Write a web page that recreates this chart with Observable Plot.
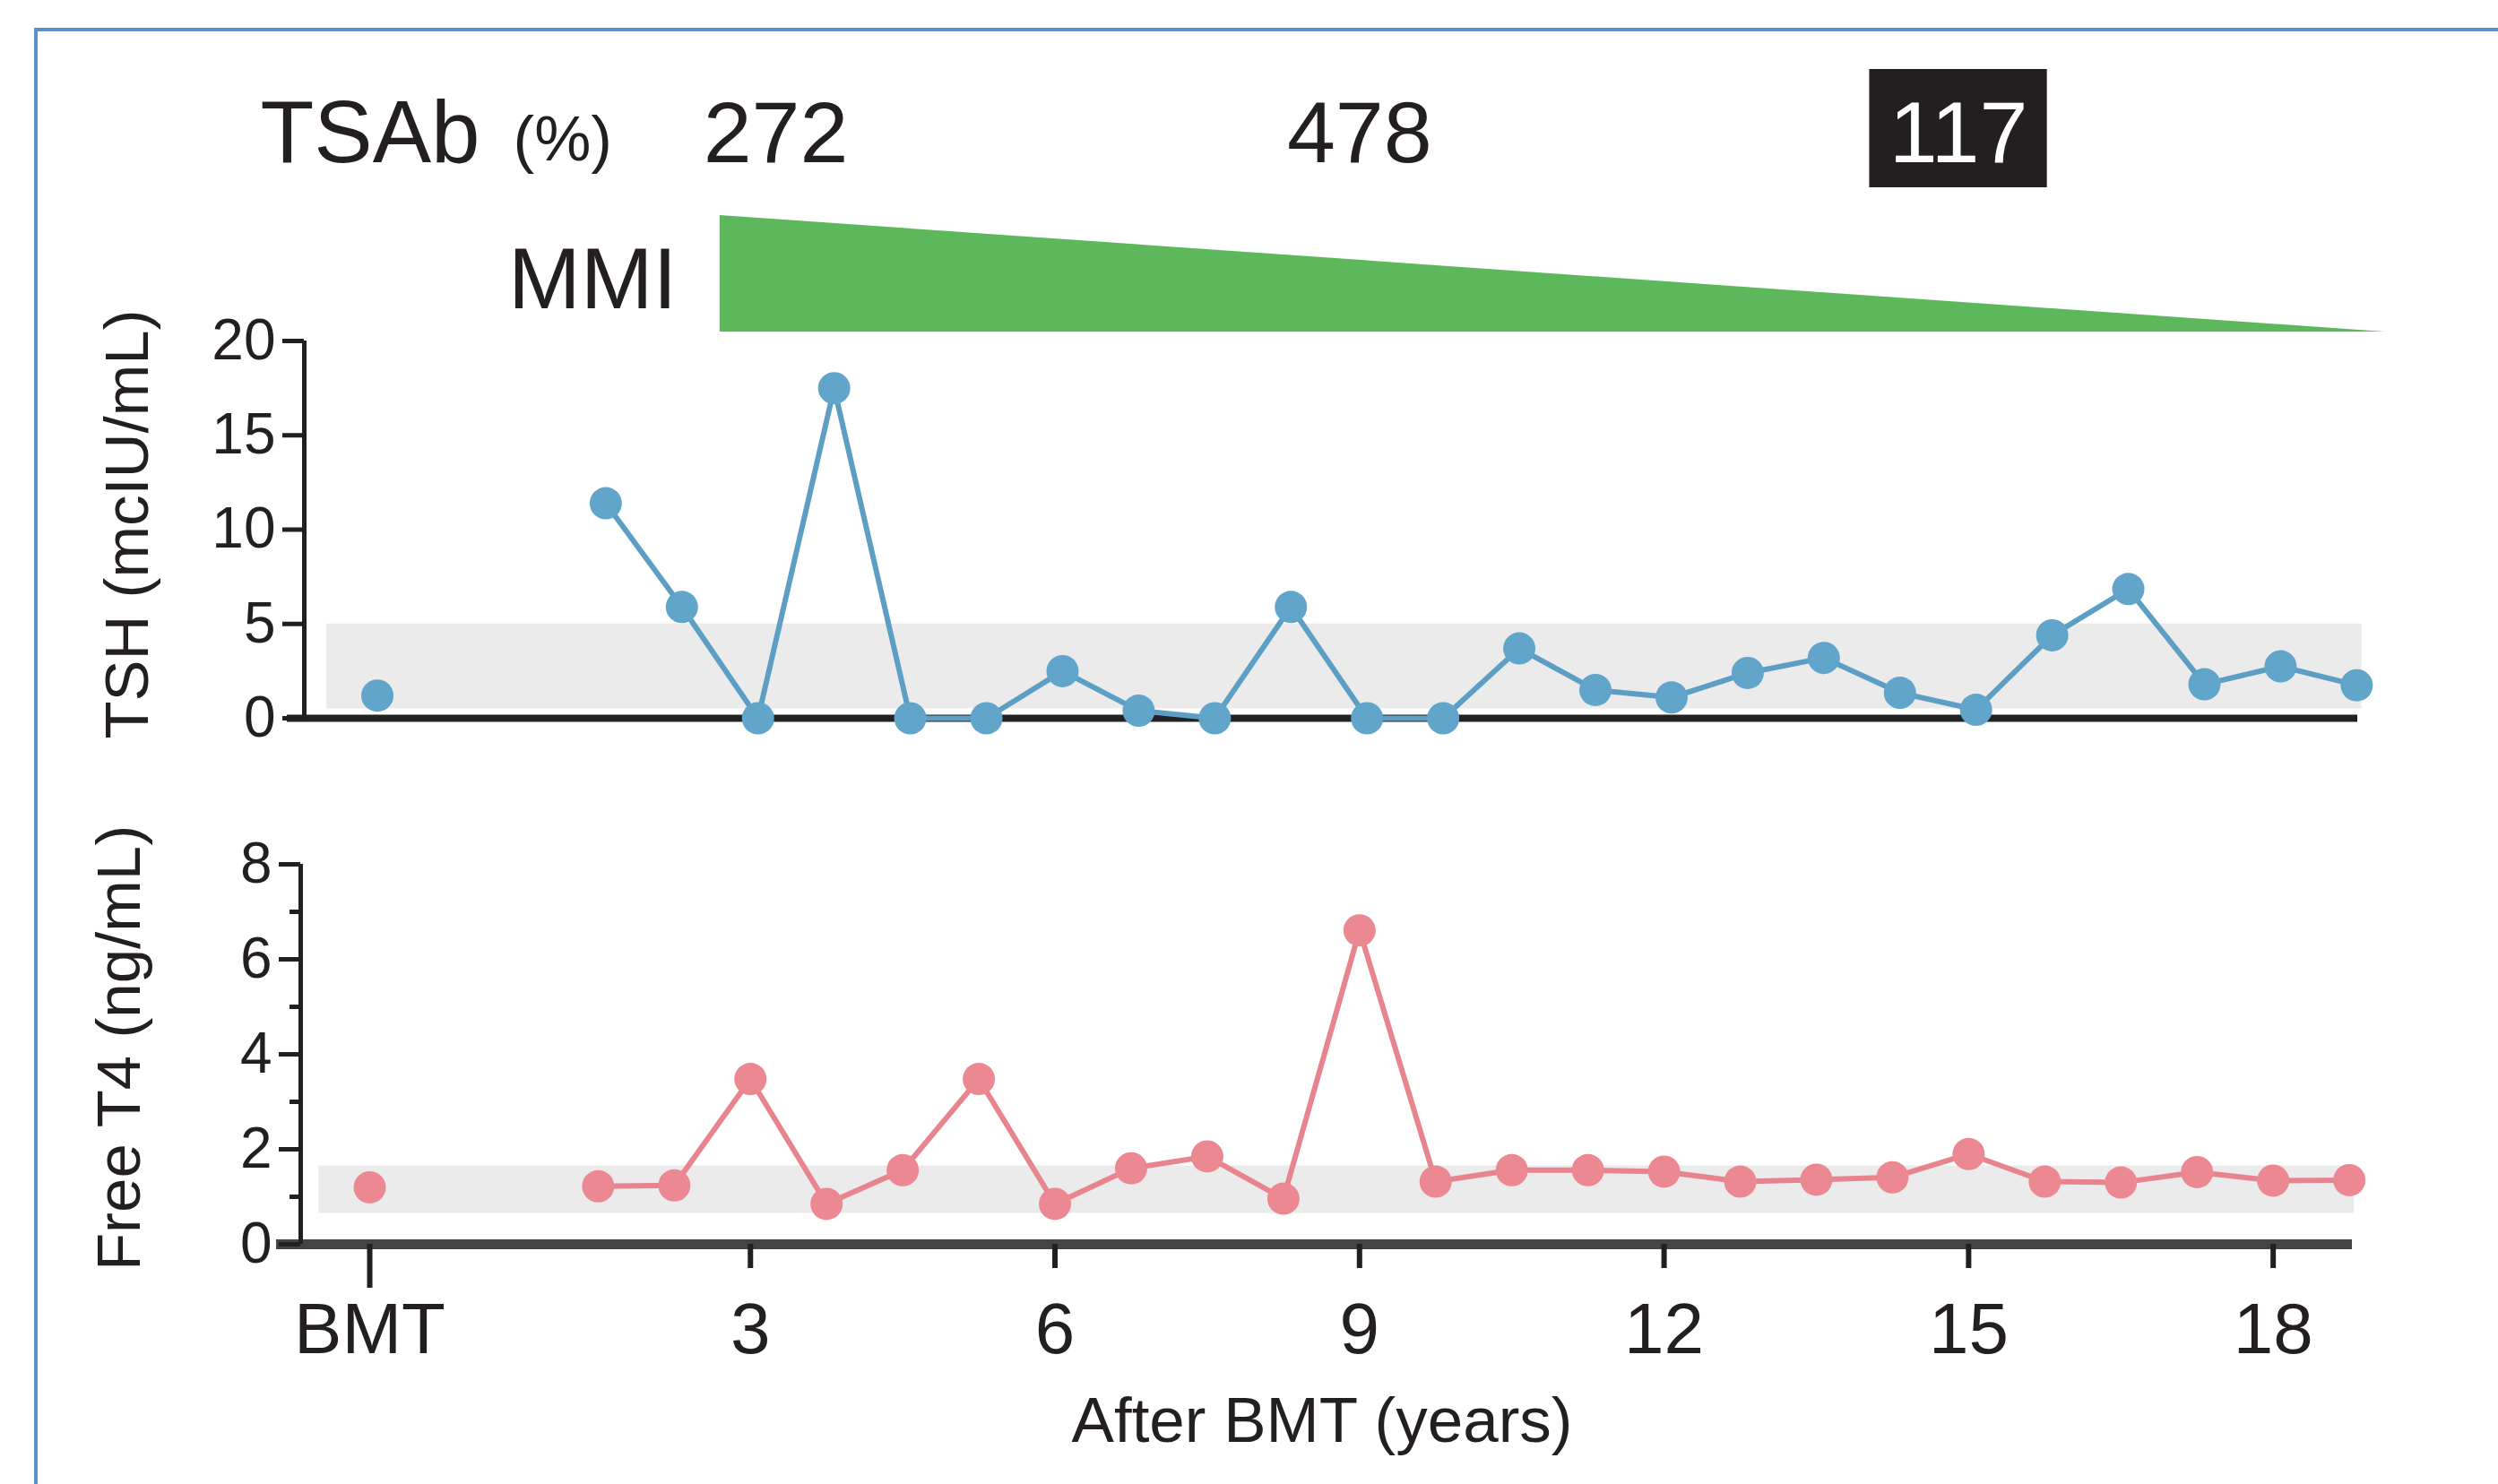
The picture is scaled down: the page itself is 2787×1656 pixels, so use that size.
<!DOCTYPE html>
<html>
<head>
<meta charset="utf-8">
<script src="https://cdn.jsdelivr.net/npm/d3@7"></script>
<script src="https://cdn.jsdelivr.net/npm/@observablehq/plot@0.6"></script>
<style>
  html, body { margin: 0; padding: 0; background: #fff; overflow: hidden; }
  #fig { position: relative; width: 2787px; height: 1656px; overflow: hidden; background: #fff; }
  #border { position: absolute; left: 38px; top: 31px; width: 4000px; height: 4000px;
            border-left: 4px solid #5a90cb; border-top: 4px solid #5a90cb; }
</style>
</head>
<body>
<div id="fig"><div id="border"></div></div>
<script>
// ---------------- data ----------------
const sampleYears = [-0.75, 1.5, 2.25, 3, 3.75, 4.5, 5.25, 6, 6.75, 7.5, 8.25, 9, 9.75,
                     10.5, 11.25, 12, 12.75, 13.5, 14.25, 15, 15.75, 16.5, 17.25, 18, 18.75];
const tshValues = [1.2, 11.4, 5.9, 0, 17.5, 0, 0, 2.5, 0.4, 0, 5.9, 0, 0,
                   3.7, 1.5, 1.1, 2.4, 3.2, 1.35, 0.45, 4.4, 6.85, 1.8, 2.75, 1.75];
const ft4Values = [1.2, 1.22, 1.24, 3.48, 0.85, 1.56, 3.48, 0.85, 1.6, 1.85, 0.96, 6.61, 1.32,
                   1.56, 1.56, 1.53, 1.32, 1.36, 1.41, 1.9, 1.32, 1.3, 1.52, 1.34, 1.35];
const tshNormalRange = [0.5, 5];
const ft4NormalRange = [0.65, 1.65];
const normalBandYears = [-1.25, 18.8];

const tsabLabels = ["272", "478", "117"];
const tsabYears = [3.25, 9, 14.9];
const tsabHighlight = [false, false, true];

const mmiYears = [2.7, 19.1];
const mmiDose = [1, 0];

const xTickValues = [3, 6, 9, 12, 15, 18];
const xTickLabels = ["3", "6", "9", "12", "15", "18"];
const bmtTickValue = [-0.75];
const bmtTickLabel = "BMT";
const tshTicks = [0, 5, 10, 15, 20];
const ft4Ticks = [0, 2, 4, 6, 8];
const ft4MinorTicks = [1, 3, 5, 7];

// ---------------- build ----------------
const W = 2787;
const font = '"Liberation Sans", Arial, Helvetica, sans-serif';
const ink = "#231f20";
const baseStyle = {background: "transparent", overflow: "visible", fontFamily: font, color: ink};

const series = sampleYears.map((year, i) => ({
  year, tsh: tshValues[i], ft4: ft4Values[i], seg: year < 0 ? "bmt" : "follow-up"
}));
const tsab = tsabYears.map((year, i) => ({year, label: tsabLabels[i], hi: tsabHighlight[i]}));
const mmi = mmiYears.map((year, i) => ({year, dose: mmiDose[i]}));

const xBottom = {domain: [-1.43, 18.78], axis: null, label: null};
const xTsh = {domain: [-1.47, 18.76], axis: null, label: null};

function place(el, top) {
  el.style.position = "absolute";
  el.style.left = "0px";
  el.style.top = top + "px";
  document.getElementById("fig").appendChild(el);
}

// TSAb row
place(Plot.plot({
  width: W, height: 240, marginTop: 77, marginBottom: 31, marginLeft: 335, marginRight: 163,
  style: baseStyle,
  x: xBottom, y: {axis: null, domain: [0, 1]},
  marks: [
    Plot.rect(tsab.filter(d => d.hi), {x1: d => d.year - 0.875, x2: d => d.year + 0.875, fill: ink}),
    Plot.text(tsab, {x: "year", text: "label", frameAnchor: "middle", lineAnchor: "bottom", dy: 37,
                     fontSize: 97, fill: d => d.hi ? "#ffffff" : ink}),
    Plot.text(["TSAb"], {text: d => d, frameAnchor: "left", textAnchor: "start", lineAnchor: "bottom",
                         dx: -45, dy: 37, fontSize: 98, fill: ink}),
    Plot.text(["(%)"], {text: d => d, frameAnchor: "left", textAnchor: "start", lineAnchor: "bottom",
                        dx: 237, dy: 35, fontSize: 71, fill: ink})
  ]
}), 0);

// MMI wedge
place(Plot.plot({
  width: W, height: 190, marginTop: 40, marginBottom: 20, marginLeft: 335, marginRight: 163,
  style: baseStyle,
  x: xBottom, y: {axis: null, domain: [0, 1]},
  marks: [
    Plot.areaY(mmi, {x: "year", y: "dose", fill: "#5cb85a"}),
    Plot.text(["MMI"], {text: d => d, frameAnchor: "bottom-left", textAnchor: "end", lineAnchor: "bottom",
                        dx: 420, dy: -27, fontSize: 97, fill: ink})
  ]
}), 200);

// TSH panel
place(Plot.plot({
  width: W, height: 520, marginTop: 50, marginBottom: 49, marginLeft: 339, marginRight: 157,
  style: baseStyle,
  x: xTsh, y: {domain: [0, 20], axis: null, label: null},
  marks: [
    Plot.rect([tshNormalRange], {x1: normalBandYears[0], x2: normalBandYears[1], y1: d => d[0], y2: d => d[1], fill: "#ebebeb"}),
    Plot.ruleY([0], {stroke: "#222222", strokeWidth: 8, insetLeft: -19}),
    Plot.ruleX([xTsh.domain[0]], {y1: 0, y2: 20, stroke: ink, strokeWidth: 5}),
    Plot.axisY({ticks: tshTicks, tickSize: 24, tickPadding: 8, strokeWidth: 5, fontSize: 64, label: null, tickFormat: d => String(d)}),
    Plot.line(series, {x: "year", y: "tsh", z: "seg", stroke: "#5d9ec5", strokeWidth: 6}),
    Plot.dot(series, {x: "year", y: "tsh", r: 18, fill: "#62a5cb"}),
    Plot.text(["TSH (mcIU/mL)"], {text: d => d, frameAnchor: "left", textAnchor: "middle", rotate: -90, lineAnchor: "middle",
                                  dx: -197, dy: -6, fontSize: 69, fill: ink})
  ]
}), 330);

// Free T4 panel
place(Plot.plot({
  width: W, height: 756, marginTop: 64, marginBottom: 268, marginLeft: 335, marginRight: 163,
  style: baseStyle,
  x: xBottom, y: {domain: [0, 8], axis: null, label: null},
  marks: [
    Plot.rect([ft4NormalRange], {x1: normalBandYears[0], x2: normalBandYears[1], y1: d => d[0], y2: d => d[1], fill: "#ebebeb"}),
    Plot.ruleY([0], {stroke: "#444444", strokeWidth: 11, insetLeft: -27}),
    Plot.ruleX([xBottom.domain[0]], {y1: 0, y2: 8, stroke: ink, strokeWidth: 5}),
    Plot.axisY({ticks: ft4Ticks, tickSize: 24, tickPadding: 8, strokeWidth: 5, fontSize: 64, label: null, tickFormat: d => String(d)}),
    Plot.axisY({ticks: ft4MinorTicks, tickSize: 12, strokeWidth: 5, label: null, tickFormat: () => ""}),
    Plot.axisX({ticks: xTickValues, tickSize: 27, tickPadding: 38, strokeWidth: 6, fontSize: 80, label: null,
                tickFormat: d => xTickLabels[xTickValues.indexOf(d)]}),
    Plot.axisX({ticks: bmtTickValue, tickSize: 49, tickPadding: 16, strokeWidth: 6, fontSize: 80, label: null,
                tickFormat: () => bmtTickLabel}),
    Plot.line(series, {x: "year", y: "ft4", z: "seg", stroke: "#e7848e", strokeWidth: 6}),
    Plot.dot(series, {x: "year", y: "ft4", r: 18, fill: "#eb8892"}),
    Plot.text(["Free T4 (ng/mL)"], {text: d => d, frameAnchor: "left", textAnchor: "middle", rotate: -90, lineAnchor: "middle",
                                    dx: -202, dy: -7, fontSize: 69, fill: ink}),
    Plot.text(["After BMT (years)"], {text: d => d, frameAnchor: "bottom", lineAnchor: "bottom",
                                      dx: -5, dy: 220, fontSize: 71, fill: ink})
  ]
}), 900);
</script>
</body>
</html>
